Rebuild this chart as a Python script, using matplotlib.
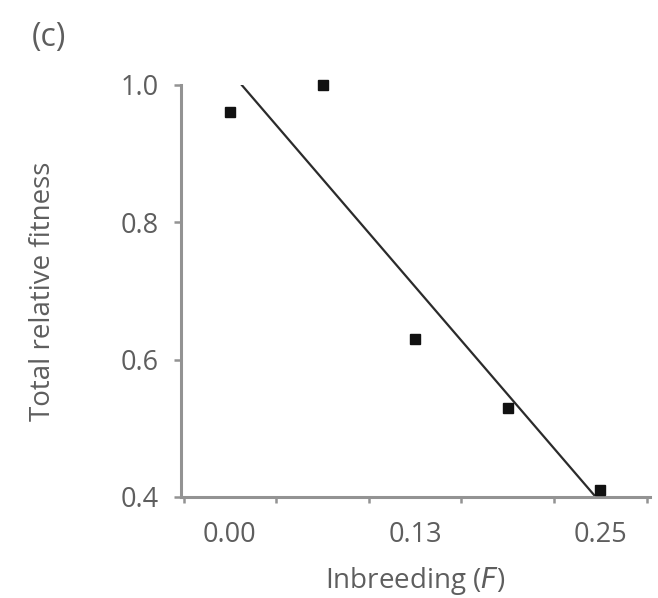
import numpy as np
import matplotlib
matplotlib.use('Agg')
import matplotlib.pyplot as plt

# data
inbreeding = [0.0, 0.0625, 0.125, 0.1875, 0.25]
fitness = [0.96, 1.0, 0.63, 0.53, 0.41]
xtick_pos = [0.0, 0.125, 0.25]
xtick_labels = ['0.00', '0.13', '0.25']
ytick_pos = [0.4, 0.6, 0.8, 1.0]

plt.rcParams['font.family'] = ['Open Sans', 'DejaVu Sans']
grey = '#939393'
txt = '#5e5e5e'

fig = plt.figure(figsize=(6.58, 5.98), dpi=100)
ax = fig.add_axes([0.275, 0.169, 0.713, 0.689])

ax.plot(inbreeding, fitness, 's', color='#111111', markersize=6.5, clip_on=False, zorder=3)

# least squares line, drawn between y=1.0 and y=0.4
slope, icpt = np.polyfit(inbreeding, fitness, 1)
yl = np.array([1.0, 0.4])
xl = (yl - icpt) / slope
ax.plot(xl, yl, '-', color='#2b2b2b', lw=1.6, zorder=2)

ax.set_xlim(-0.033, 0.2835)
ax.set_ylim(0.4, 1.0)

for s in ['top', 'right']:
    ax.spines[s].set_visible(False)
for s in ['left', 'bottom']:
    ax.spines[s].set_color(grey)
    ax.spines[s].set_linewidth(2.2)

ax.set_yticks(ytick_pos)
ax.set_yticklabels(['0.4', '0.6', '0.8', '1.0'])
ax.tick_params(axis='y', length=5, width=1.8, color=grey, pad=11, labelsize=19.5, labelcolor=txt)

ax.set_xticks(xtick_pos)
ax.set_xticklabels(xtick_labels)
ax.set_xticks(np.arange(-0.03125, 0.29, 0.0625), minor=True)
ax.tick_params(axis='x', which='major', length=0, pad=17, labelsize=19.5, labelcolor=txt)
ax.tick_params(axis='x', which='minor', length=4, width=1.8, color=grey)

ax.set_xlabel('Inbreeding ($\\it{F}$)', fontsize=20, color=txt, labelpad=12)
ax.set_ylabel('Total relative fitness', fontsize=20, color=txt, labelpad=46)

fig.text(0.075, 0.938, '(c)', fontsize=23, color=txt, ha='center', va='center')

fig.savefig('out.png', dpi=100)
